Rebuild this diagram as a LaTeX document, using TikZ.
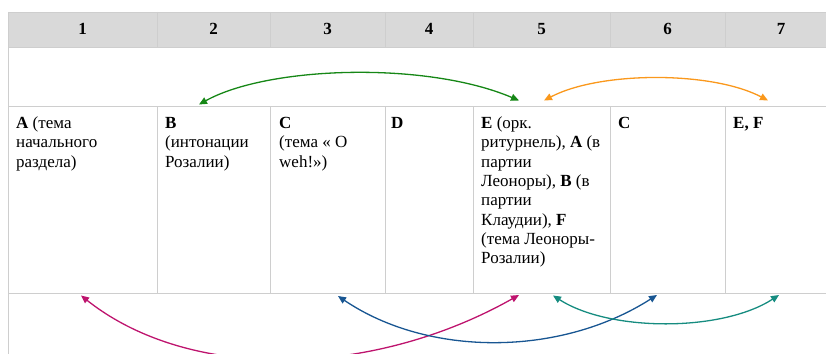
\documentclass[tikz,border=0pt]{standalone}
\usepackage{fontspec}
\setmainfont{Liberation Serif}
\usetikzlibrary{arrows.meta}

\definecolor{gridline}{RGB}{206,206,206}
\definecolor{headfill}{RGB}{217,217,217}
\definecolor{arrgreen}{RGB}{22,135,22}
\definecolor{arrorange}{RGB}{250,152,28}
\definecolor{arrmagenta}{RGB}{190,20,110}
\definecolor{arrblue}{RGB}{24,86,146}
\definecolor{arrteal}{RGB}{22,140,128}

\tikzset{
  rule/.style={draw=gridline, line width=0.9pt},
  headnum/.style={anchor=base, inner sep=0pt, font=\fontsize{17}{19.3}\selectfont\bfseries},
  celltext/.style={anchor=north west, inner sep=0pt, align=left,
    font=\fontsize{17}{19.3}\selectfont},
  link/.style={line width=1.3pt, {Triangle[length=8pt,width=7pt]}-{Triangle[length=8pt,width=7pt]}},
}

\begin{document}
\begin{tikzpicture}[x=1pt,y=-1pt]
\useasboundingbox (0,0) rectangle (826,353);
\clip (0,0) rectangle (826,353);

% header band
\fill[headfill] (8,12) rectangle (840,47);

% table rules: the second row and the last row are merged across columns
\draw[rule] (8,12) -- (840,12);
\draw[rule] (8,47) -- (840,47);
\draw[rule] (8,106) -- (840,106);
\draw[rule] (8,293) -- (840,293);
\draw[rule] (8,12) -- (8,360);
\foreach \xc in {157,270,385,473,610,725} {
  \draw[rule] (\xc,12) -- (\xc,47);
  \draw[rule] (\xc,106) -- (\xc,293);
}

% column numbers
\node[headnum] (h1) at (82.5,34.5) {1};
\node[headnum] (h2) at (213.5,34.5) {2};
\node[headnum] (h3) at (327.5,34.5) {3};
\node[headnum] (h4) at (429,34.5) {4};
\node[headnum] (h5) at (541.5,34.5) {5};
\node[headnum] (h6) at (667.5,34.5) {6};
\node[headnum] (h7) at (781,34.5) {7};

% cell contents
\node[celltext] (c1) at (16,114.8) {\strut\textbf{A} (тема\\начального\\раздела)};
\node[celltext] (c2) at (165,114.8) {\strut\textbf{B}\\(интонации\\Розалии)};
\node[celltext] (c3) at (279,114.8) {\strut\textbf{C}\\(тема « O\\weh!»)};
\node[celltext] (c4) at (391,114.8) {\strut\textbf{D}};
\node[celltext] (c5) at (481,114.8) {\strut\textbf{E} (орк.\\ритурнель), \textbf{A} (в\\партии\\Леоноры), \textbf{B} (в\\партии\\Клаудии), \textbf{F}\\(тема Леоноры-\\Розалии)};
\node[celltext] (c6) at (618,114.8) {\strut\textbf{C}};
\node[celltext] (c7) at (733,114.8) {\strut\textbf{E, F}};

% arrow end points
\coordinate (tB) at (199,104.5);
\coordinate (tE) at (519,100.5);
\coordinate (tE2) at (544,100.5);
\coordinate (tG) at (768,100.5);
\coordinate (bA) at (81,295.5);
\coordinate (bE) at (519,295);
\coordinate (bC) at (338,296);
\coordinate (bC2) at (657,295);
\coordinate (bE2) at (553,295.5);
\coordinate (bG) at (779,295);

% links above the cells
\draw[link, arrgreen] (tB) .. controls (268,66) and (426,61) .. (tE);
\draw[link, arrorange] (tE2) .. controls (600,71) and (712,71) .. (tG);

% links below the cells
\draw[link, arrmagenta] (bA) .. controls (190,382) and (372,378) .. (bE);
\draw[link, arrblue] (bC) .. controls (428,357) and (560,357) .. (bC2);
\draw[link, arrteal] (bE2) .. controls (610,332) and (722,332) .. (bG);
\end{tikzpicture}
\end{document}
